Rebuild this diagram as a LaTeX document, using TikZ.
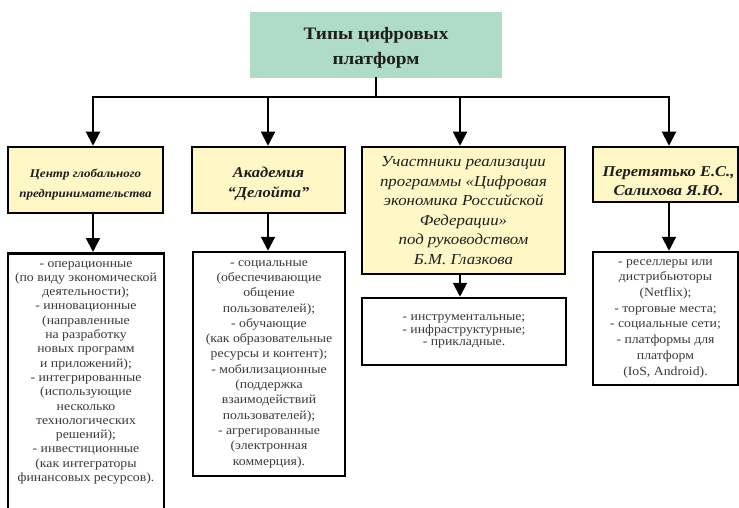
\documentclass[tikz,border=0pt]{standalone}
\usepackage{fontspec}
\setmainfont[FakeStretch=1.1]{Liberation Serif}
\usetikzlibrary{arrows.meta}
\definecolor{titlegreen}{HTML}{AEDCC6}
\definecolor{headyellow}{HTML}{FFF8C6}
\definecolor{ink}{HTML}{1E1E1E}
\definecolor{graytext}{HTML}{3A3A3A}
% invisible strut that lowers a centred block of lines inside its box
\newcommand{\topgap}[1]{\rule{0pt}{#1}}
\begin{document}
\begin{tikzpicture}[x=1pt,y=-1pt,
  every node/.style={align=center, inner sep=0pt},
  titlebox/.style={fill=titlegreen, minimum width=252pt, minimum height=66pt,
    font=\fontsize{17.5}{25}\selectfont\bfseries, text=ink},
  headbox/.style={draw=black, line width=2.5pt, fill=headyellow,
    font=\fontsize{15}{20}\selectfont\bfseries\itshape, text=ink},
  listbox/.style={draw=black, line width=2.5pt, fill=white,
    font=\fontsize{12.5}{14.3}\selectfont, text=graytext},
  listtext/.style={font=\fontsize{12.5}{14.3}\selectfont, text=graytext},
  link/.style={line width=2pt, draw=black, line cap=rect},
  arrowlink/.style={link, -{Triangle[length=14pt,width=14pt]}},
]
\useasboundingbox (0,0) rectangle (739,508);

% root
\node[titlebox] (T) at (376,45) {\topgap{17.5pt}Типы цифровых\\платформ};

% bus line and its drop points
\coordinate (b1) at (93,97);
\coordinate (b2) at (268,97);
\coordinate (b3) at (460,97);
\coordinate (b4) at (669,97);

% sources (yellow)
\node[headbox, minimum width=155pt, minimum height=66pt,
  font=\fontsize{11.8}{20}\selectfont\bfseries\itshape] (Y1) at (85.5,180)
  {\topgap{18pt}Центр глобального\\предпринимательства};
\node[headbox, minimum width=153pt, minimum height=66pt] (Y2) at (268.5,180)
  {\topgap{18pt}Академия\\“Делойта”};
\node[headbox, minimum width=203pt, minimum height=127pt,
  font=\fontsize{15.3}{19.6}\selectfont\itshape] (Y3) at (463.5,210.5)
  {Участники реализации\\программы «Цифровая\\экономика Российской\\Федерации»\\под руководством\\Б.М. Глазкова};
\node[headbox, minimum width=145pt, minimum height=55pt,
  font=\fontsize{15}{19}\selectfont\bfseries\itshape] (Y4) at (665.5,174.5)
  {\topgap{23pt}\hspace*{6pt}Перетятько Е.С.,\\\hspace*{6pt}Салихова Я.Ю.};

% lists (white)
\node[listbox, anchor=north, minimum width=156pt, minimum height=293pt] (W1) at (86,252) {};
\node[listtext, anchor=north] (W1t) at ([yshift=-9pt]W1.north)
  {- операционные\\(по виду экономической\\деятельности);\\- инновационные\\(направленные\\на разработку\\новых программ\\и приложений);\\- интегрированные\\(использующие\\несколько\\технологических\\решений);\\- инвестиционные\\(как интеграторы\\финансовых ресурсов).};
\node[listbox, minimum width=152pt, minimum height=224pt,
  font=\fontsize{12.5}{15.3}\selectfont] (W2) at (269,364)
  {- социальные\\(обеспечивающие\\общение\\пользователей);\\- обучающие\\(как образовательные\\ресурсы и контент);\\- мобилизационные\\(поддержка\\взаимодействий\\пользователей);\\- агрегированные\\(электронная\\коммерция).};
\node[listbox, minimum width=204pt, minimum height=67pt,
  font=\fontsize{12.5}{12.5}\selectfont] (W3) at (464,331.5)
  {- инструментальные;\\- инфраструктурные;\\- прикладные.};
\node[listbox, minimum width=145pt, minimum height=133pt,
  font=\fontsize{12.5}{15.7}\selectfont] (W4) at (665.5,318.5)
  {- реселлеры или\\дистрибьюторы\\(Netflix);\\- торговые места;\\- социальные сети;\\- платформы для\\платформ\\(IoS, Android).};

% connectors
\draw[link] (T.south) -- (T.south |- b1);
\draw[link] (b1) -- (b4);
\foreach \i in {1,2,3,4}{
  \draw[arrowlink] (b\i) -- (b\i |- Y\i.north);
  \draw[arrowlink] (b\i |- Y\i.south) -- (b\i |- W\i.north);
}
\end{tikzpicture}
\end{document}
